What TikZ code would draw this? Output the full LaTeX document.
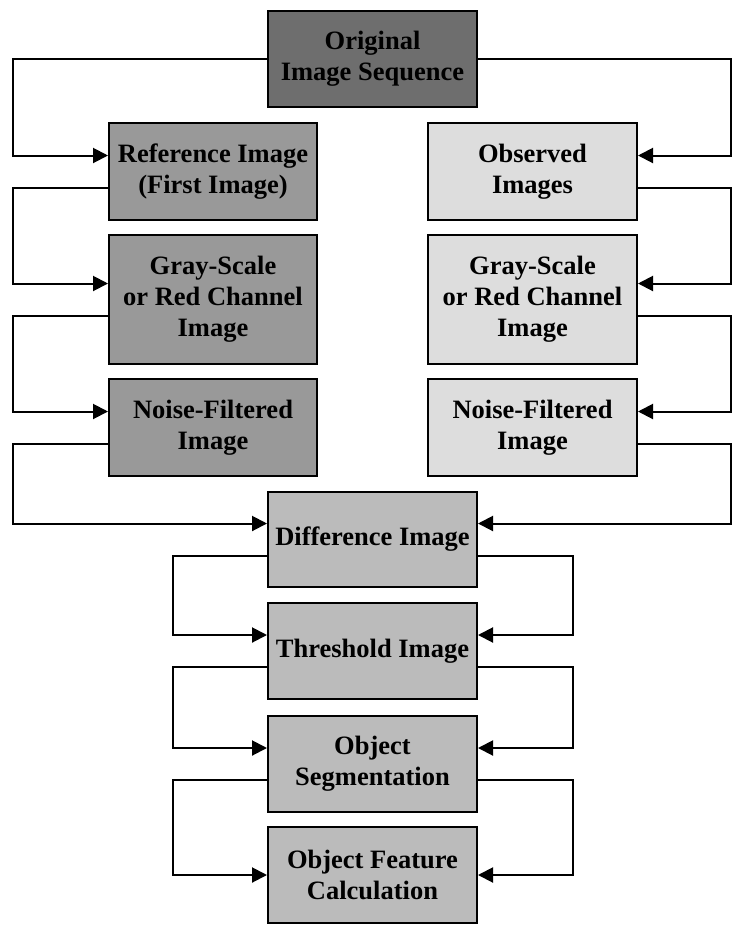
\documentclass[tikz,border=0pt]{standalone}
\usepackage{fontspec}
\setmainfont{Liberation Serif}
\usetikzlibrary{arrows.meta}
\definecolor{topfill}{HTML}{6E6E6E}
\definecolor{leftfill}{HTML}{999999}
\definecolor{midfill}{HTML}{BBBBBB}
\definecolor{rightfill}{HTML}{DDDDDD}
\begin{document}
\begin{tikzpicture}[x=1pt,y=-1pt,
  box/.style={draw=black, line width=2pt, align=center, inner sep=0pt,
    font=\fontsize{26.5}{31}\selectfont\bfseries},
  wL/.style={minimum width=208pt},
  wC/.style={minimum width=209pt},
  arr/.style={line width=2pt, -{Triangle[length=15pt,width=15pt]}},
  ]
\useasboundingbox (0,0) rectangle (736,930);
\coordinate (lrail) at (13,0);
\coordinate (rrail) at (731,0);
\coordinate (lrail2) at (173,0);
\coordinate (rrail2) at (573,0);

\node[box, wC, minimum height=96pt, fill=topfill] (orig) at (372.5,59) {Original\\Image Sequence};
\node[box, wL, minimum height=97pt, fill=leftfill] (ref) at (213,171.5) {Reference Image\\(First Image)};
\node[box, wC, minimum height=97pt, fill=rightfill] (obs) at (532.5,171.5) {Observed\\Images};
\node[box, wL, minimum height=129pt, fill=leftfill] (grayL) at (213,299.5) {Gray-Scale\\or Red Channel\\Image};
\node[box, wC, minimum height=129pt, fill=rightfill] (grayR) at (532.5,299.5) {Gray-Scale\\or Red Channel\\Image};
\node[box, wL, minimum height=97pt, fill=leftfill] (noiseL) at (213,427.5) {Noise-Filtered\\Image};
\node[box, wC, minimum height=97pt, fill=rightfill] (noiseR) at (532.5,427.5) {Noise-Filtered\\Image};
\node[box, wC, minimum height=95pt, fill=midfill] (diff) at (372.5,539.5) {Difference Image};
\node[box, wC, minimum height=96pt, fill=midfill] (thr) at (372.5,651) {Threshold Image};
\node[box, wC, minimum height=96pt, fill=midfill] (seg) at (372.5,764) {Object\\Segmentation};
\node[box, wC, minimum height=96pt, fill=midfill] (feat) at (372.5,875) {Object Feature\\Calculation};

% left chain
\draw[arr] (orig.west) -- (orig.west -| lrail) |- ([yshift=16pt]ref.west);
\draw[arr] ([yshift=-16pt]ref.west) -- ([yshift=-16pt]ref.west -| lrail) |- ([yshift=16pt]grayL.west);
\draw[arr] ([yshift=-16pt]grayL.west) -- ([yshift=-16pt]grayL.west -| lrail) |- ([yshift=16pt]noiseL.west);
\draw[arr] ([yshift=-16pt]noiseL.west) -- ([yshift=-16pt]noiseL.west -| lrail) |- ([yshift=16pt]diff.west);
% right chain
\draw[arr] (orig.east) -- (orig.east -| rrail) |- ([yshift=16pt]obs.east);
\draw[arr] ([yshift=-16pt]obs.east) -- ([yshift=-16pt]obs.east -| rrail) |- ([yshift=16pt]grayR.east);
\draw[arr] ([yshift=-16pt]grayR.east) -- ([yshift=-16pt]grayR.east -| rrail) |- ([yshift=16pt]noiseR.east);
\draw[arr] ([yshift=-16pt]noiseR.east) -- ([yshift=-16pt]noiseR.east -| rrail) |- ([yshift=16pt]diff.east);
% center loops
\draw[arr] ([yshift=-16pt]diff.west) -- ([yshift=-16pt]diff.west -| lrail2) |- ([yshift=16pt]thr.west);
\draw[arr] ([yshift=-16pt]thr.west) -- ([yshift=-16pt]thr.west -| lrail2) |- ([yshift=16pt]seg.west);
\draw[arr] ([yshift=-16pt]seg.west) -- ([yshift=-16pt]seg.west -| lrail2) |- (feat.west);
\draw[arr] ([yshift=-16pt]diff.east) -- ([yshift=-16pt]diff.east -| rrail2) |- ([yshift=16pt]thr.east);
\draw[arr] ([yshift=-16pt]thr.east) -- ([yshift=-16pt]thr.east -| rrail2) |- ([yshift=16pt]seg.east);
\draw[arr] ([yshift=-16pt]seg.east) -- ([yshift=-16pt]seg.east -| rrail2) |- (feat.east);
\end{tikzpicture}
\end{document}
